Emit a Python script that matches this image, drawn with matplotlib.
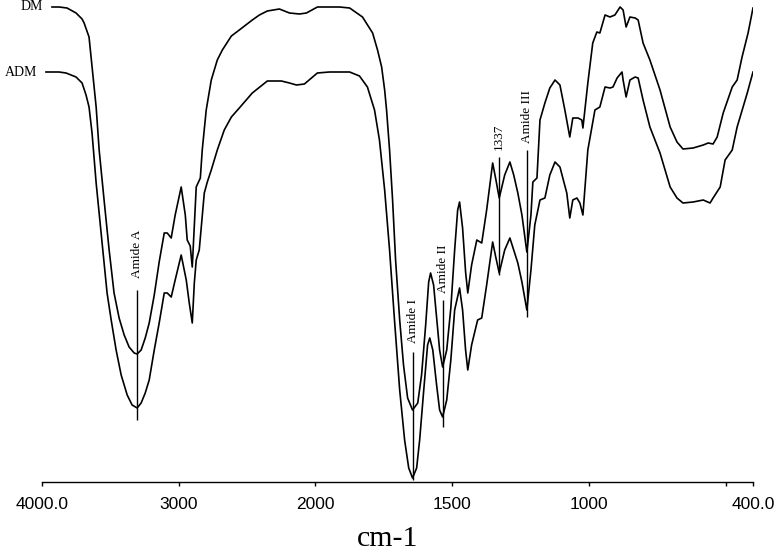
import numpy as np
import matplotlib
matplotlib.use('Agg')
import matplotlib.pyplot as plt

# ---- data (wavenumber in cm-1, transmittance in a.u.) ----
dm_wavenumber = [3927, 3875, 3817, 3751, 3707, 3692, 3656, 3634, 3604, 3582, 3546, 3509, 3473, 3436,
                 3399, 3363, 3326, 3304, 3275, 3245, 3216, 3179, 3143, 3106, 3084, 3055, 3026, 2982,
                 2952, 2938, 2916, 2901, 2886, 2872, 2842, 2828, 2799, 2762, 2718, 2681, 2615, 2557,
                 2462, 2410, 2352, 2264, 2190, 2117, 2066, 1993, 1912, 1875, 1828, 1791, 1773, 1758,
                 1747, 1740, 1729, 1718, 1707, 1692, 1678, 1663, 1645, 1626, 1612, 1597, 1586, 1579,
                 1568, 1557, 1546, 1535, 1520, 1505, 1491, 1480, 1473, 1462, 1451, 1443, 1429, 1410,
                 1392, 1374, 1352, 1340, 1328, 1308, 1289, 1275, 1260, 1245, 1227, 1212, 1205, 1190,
                 1179, 1161, 1143, 1124, 1106, 1088, 1070, 1059, 1040, 1026, 1022, 1004, 986, 971,
                 960, 941, 923, 905, 886, 875, 864, 850, 831, 820, 802, 777, 740, 703, 678, 656, 619,
                 582, 564, 546, 531, 509, 476, 458, 440, 418, 400]
dm_transmittance = [475, 475, 474, 469, 463, 459, 445, 415, 375, 332, 282, 232, 189, 164,
                    147, 135, 129, 128, 132, 144, 159, 187, 220, 249, 249, 244, 267, 295,
                    267, 242, 236, 215, 257, 295, 304, 332, 372, 402, 422, 432, 446, 452,
                    462, 467, 471, 473, 469, 468, 469, 475, 475, 474, 465, 449, 432, 415,
                    392, 372, 332, 282, 222, 162, 117, 84, 72, 79, 107, 157, 200, 209,
                    197, 164, 132, 115, 132, 174, 232, 272, 280, 254, 210, 189, 217, 242,
                    239, 272, 319, 302, 284, 307, 320, 307, 289, 267, 230, 267, 300, 304,
                    362, 379, 394, 402, 397, 372, 345, 364, 364, 362, 354, 399, 439, 450,
                    449, 467, 465, 467, 475, 472, 455, 465, 464, 462, 439, 422, 392, 355, 340, 333, 334,
                    337, 339, 338, 345, 369, 395, 402, 425, 449, 474]

adm_wavenumber = [3971, 3875, 3824, 3751, 3707, 3678, 3656, 3634, 3604, 3568, 3524, 3494, 3458, 3421,
                  3377, 3341, 3304, 3275, 3245, 3216, 3179, 3143, 3106, 3084, 3055, 3026, 2982, 2945,
                  2923, 2901, 2886, 2872, 2850, 2813, 2791, 2762, 2718, 2667, 2615, 2557, 2462, 2352,
                  2249, 2190, 2139, 2081, 2029, 1993, 1949, 1875, 1839, 1810, 1784, 1766, 1747, 1729,
                  1711, 1692, 1674, 1659, 1645, 1630, 1619, 1604, 1590, 1582, 1571, 1557, 1546, 1535,
                  1520, 1505, 1491, 1473, 1462, 1451, 1443, 1429, 1407, 1392, 1374, 1352, 1340, 1328,
                  1308, 1289, 1275, 1260, 1245, 1227, 1212, 1198, 1179, 1161, 1143, 1124, 1106, 1081,
                  1070, 1059, 1044, 1033, 1022, 1004, 978, 960, 941, 923, 912, 897, 879, 875, 864,
                  850, 831, 820, 802, 777, 740, 703, 678, 656, 619, 582, 557, 546, 520, 502, 476,
                  458, 421, 400]
adm_transmittance = [410, 410, 409, 405, 399, 387, 375, 349, 299, 249, 189, 162, 132, 107,
                     87, 77, 74, 79, 89, 102, 132, 159, 189, 189, 185, 202, 227, 202,
                     179, 159, 199, 222, 232, 289, 300, 312, 332, 352, 365, 374, 389, 401,
                     401, 399, 397, 398, 404, 409, 410, 410, 406, 395, 372, 342, 292, 232,
                     162, 92, 42, 14, 4, 14, 42, 92, 137, 144, 132, 97, 72, 65,
                     82, 122, 172, 194, 172, 132, 112, 137, 162, 164, 197, 240, 224, 209,
                     232, 244, 232, 219, 200, 172, 212, 257, 282, 284, 307, 320, 315, 289,
                     264, 282, 284, 279, 267, 332, 372, 375, 395, 394, 395, 404, 410, 402, 385,
                     402, 405, 404, 382, 355, 329, 295, 284, 279, 280, 282, 279, 284, 295, 322, 332,
                     355, 389, 410]

band_labels = ['Amide A', 'Amide I', 'Amide II', '1337', 'Amide III']
band_positions = [3304, 1645, 1535, 1328, 1227]
band_line_top = [192, 130, 182, 325, 332]
band_line_bottom = [62, 2, 55, 207, 165]
band_text_base = [204, 139, 189, 332, 339]

series_names = ['DM', 'ADM']

tick_values = [4000, 3000, 2000, 1500, 1000, 500, 400]
tick_labels = ['4000.0', '3000', '2000', '1500', '1000', '', '400.0']
x_label = 'cm-1'


# ---- piecewise wavenumber axis (scale doubles below 2000 cm-1), increasing in w ----
def fwd(w):
    w = np.asarray(w, dtype=float)
    return np.where(w >= 2000, (w - 4000.0) / 1000.0, (w - 2000.0) / 500.0 - 2.0)


def inv(v):
    v = np.asarray(v, dtype=float)
    return np.where(v >= -2, 4000.0 + 1000.0 * v, 2000.0 + 500.0 * (v + 2.0))


fig = plt.figure(figsize=(7.74, 5.52), dpi=100)
ax = fig.add_axes([42 / 774, 70 / 552, 711 / 774, 482 / 552])
ax.set_xscale('function', functions=(fwd, inv))

lw = 1.2
ax.plot(dm_wavenumber, dm_transmittance, color='black', lw=lw, solid_joinstyle='round')
ax.plot(adm_wavenumber, adm_transmittance, color='black', lw=lw, solid_joinstyle='round')

serif = ['Liberation Serif', 'DejaVu Serif']
for name, xs, ys in [(series_names[0], dm_wavenumber, dm_transmittance),
                     (series_names[1], adm_wavenumber, adm_transmittance)]:
    ax.annotate(name, xy=(xs[0], ys[0]), xytext=(-6.5, 0), textcoords='offset points',
                ha='right', va='center', fontsize=10, family=serif, annotation_clip=False)

for lab, pos, top, bot, base in zip(band_labels, band_positions, band_line_top,
                                    band_line_bottom, band_text_base):
    ax.vlines(pos, bot, top, color='black', lw=1.0)
    ax.text(pos, base, lab, rotation=90, ha='center', va='bottom', fontsize=9.5, family=serif)

ax.set_xlim(4000, 400)
ax.set_ylim(0, 482)

for s in ['top', 'left', 'right']:
    ax.spines[s].set_visible(False)
ax.spines['bottom'].set_linewidth(1.0)
ax.set_yticks([])
ax.xaxis.set_major_locator(matplotlib.ticker.FixedLocator(tick_values))
ax.xaxis.set_minor_locator(matplotlib.ticker.NullLocator())
ax.set_xticklabels(tick_labels)
ax.tick_params(axis='x', direction='out', length=3, width=1.0, pad=8, labelsize=12.5)
for t in ax.get_xticklabels():
    t.set_family(['Liberation Sans', 'DejaVu Sans'])
ax.patch.set_visible(False)

fig.text(388 / 774, 5.5 / 552, x_label, ha='center', va='baseline', fontsize=21.5, family=serif)

fig.savefig('out.png', dpi=100)
